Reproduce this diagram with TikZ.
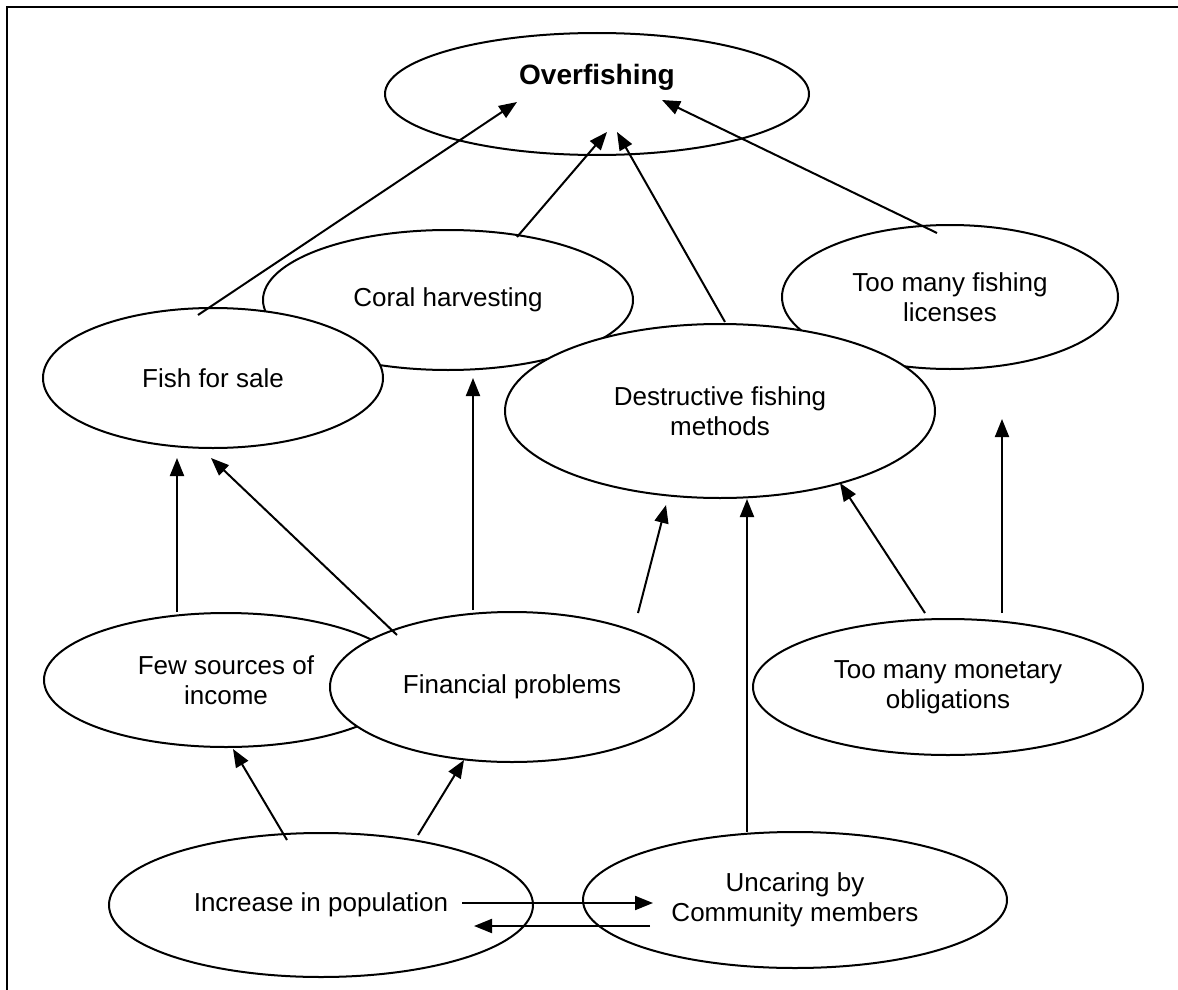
\documentclass[tikz,border=0pt]{standalone}
\usepackage{fontspec}
\setmainfont{Liberation Sans}
\usetikzlibrary{shapes.geometric,arrows.meta,calc}
\tikzset{
  cause/.style={ellipse, draw, fill=white, line width=2pt, inner sep=0pt, align=center},
  arr/.style={line width=2pt, -{Triangle[length=18pt,width=14pt]}}
}
\begin{document}
\begin{tikzpicture}[x=1pt,y=-1pt]
    \useasboundingbox (0,0) rectangle (1178,990);
    \fontsize{26}{30}\selectfont
    \draw[line width=2.6pt] (7,990) -- (7,7) -- (1178,7);

    \node[cause, minimum width=424, minimum height=122,
      label={[yshift=17pt, font=\fontsize{28}{30}\selectfont\bfseries]center:Overfishing}] (over) at (597,94) {};
    \node[cause, minimum width=370, minimum height=140] (coral) at (448,300) {Coral harvesting};
    \node[cause, minimum width=336, minimum height=144] (lic) at (950,297) {Too many fishing\\licenses};
    \node[cause, minimum width=430, minimum height=174] (destr) at (720,411) {Destructive fishing\\methods};
    \node[cause, minimum width=340, minimum height=140] (fish) at (213,378) {Fish for sale};
    \node[cause, minimum width=364, minimum height=134] (few) at (226,680) {Few sources of\\income};
    \node[cause, minimum width=364, minimum height=150] (fin) at (512,687) {Financial problems};
    \node[cause, minimum width=390, minimum height=136] (mon) at (948,687) {Too many monetary\\obligations};
    \node[cause, minimum width=424, minimum height=144] (inc) at (321,905) {Increase in population};
    \node[cause, minimum width=424, minimum height=136] (unc) at (795,900) {Uncaring by\\Community members};

    \draw[arr] ($(fish)+(-15,-63)$) -- ($(over)+(-80,8)$);
    \draw[arr] ($(coral)+(69,-63)$) -- ($(over)+(10,38)$);
    \draw[arr] ($(destr)+(5,-89)$) -- ($(over)+(20,38)$);
    \draw[arr] ($(lic)+(-13,-64)$) -- ($(over)+(65,6)$);

    \draw[arr] ($(few)+(-49,-68)$) -- ($(fish)+(-36,80)$);
    \draw[arr] ($(fin)+(-115,-52)$) -- ($(fish)+(-2,80)$);
    \draw[arr] ($(fin)+(-39,-77)$) -- ($(coral)+(25,78)$);
    \draw[arr] ($(fin)+(126,-74)$) -- ($(destr)+(-54,94)$);
    \draw[arr] ($(unc)+(-48,-68)$) -- ($(destr)+(27,88)$);
    \draw[arr] ($(mon)+(-23,-74)$) -- ($(destr)+(120,72)$);
    \draw[arr] ($(mon)+(54,-74)$) -- ($(lic)+(52,122)$);

    \draw[arr] ($(inc)+(-34,-65)$) -- ($(few)+(7,69)$);
    \draw[arr] ($(inc)+(97,-70)$) -- ($(fin)+(-48,73)$);
    \draw[arr] ($(inc)+(141,-2)$) -- ($(unc)+(-142,3)$);
    \draw[arr] ($(unc)+(-145,26)$) -- ($(inc)+(153,21)$);
\end{tikzpicture}
\end{document}
